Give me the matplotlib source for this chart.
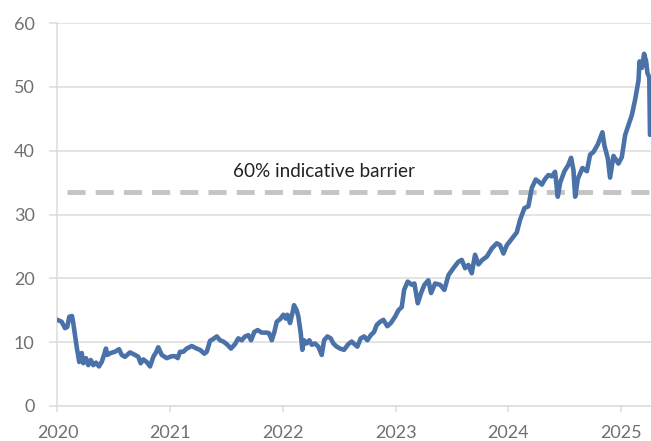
import matplotlib
matplotlib.use("Agg")
import matplotlib.pyplot as plt

plt.rcParams["font.family"] = ["Lato", "DejaVu Sans"]
plt.rcParams["lines.scale_dashes"] = False

# share price (decimal years)
years = [
    2020.000, 2020.037, 2020.067, 2020.087, 2020.105, 2020.129, 2020.140, 2020.170,
    2020.193, 2020.215, 2020.229, 2020.253, 2020.273, 2020.295, 2020.318, 2020.342,
    2020.368, 2020.392, 2020.413, 2020.430, 2020.442, 2020.472, 2020.510, 2020.546,
    2020.570, 2020.599, 2020.643, 2020.688, 2020.717, 2020.738, 2020.761, 2020.791,
    2020.821, 2020.850, 2020.874, 2020.894, 2020.925, 2020.969,
    2021.013, 2021.043, 2021.067, 2021.087, 2021.116, 2021.146, 2021.191, 2021.235,
    2021.264, 2021.303, 2021.324, 2021.353, 2021.382, 2021.413, 2021.442, 2021.471,
    2021.501, 2021.539, 2021.575, 2021.604, 2021.634, 2021.664, 2021.693, 2021.717,
    2021.746, 2021.776, 2021.812, 2021.856, 2021.877, 2021.901, 2021.924, 2021.945,
    2021.974,
    2022.004, 2022.025, 2022.039, 2022.063, 2022.087, 2022.098, 2022.122, 2022.137,
    2022.158, 2022.172, 2022.187, 2022.211, 2022.234, 2022.256, 2022.285, 2022.314,
    2022.344, 2022.365, 2022.394, 2022.424, 2022.447, 2022.477, 2022.507, 2022.542,
    2022.580, 2022.610, 2022.640, 2022.660, 2022.690, 2022.720, 2022.749, 2022.779,
    2022.808, 2022.832, 2022.862, 2022.891, 2022.926, 2022.957, 2022.995,
    2023.024, 2023.054, 2023.075, 2023.107, 2023.143, 2023.166, 2023.196, 2023.225,
    2023.255, 2023.290, 2023.314, 2023.350, 2023.394, 2023.432, 2023.468, 2023.512,
    2023.556, 2023.586, 2023.616, 2023.645, 2023.675, 2023.704, 2023.734, 2023.769,
    2023.808, 2023.853, 2023.897, 2023.926, 2023.956, 2023.986,
    2024.030, 2024.074, 2024.104, 2024.142, 2024.177, 2024.208, 2024.243, 2024.266,
    2024.297, 2024.326, 2024.355, 2024.385, 2024.414, 2024.438, 2024.459, 2024.497,
    2024.532, 2024.556, 2024.577, 2024.592, 2024.616, 2024.657, 2024.696, 2024.725,
    2024.754, 2024.793, 2024.834, 2024.852, 2024.882, 2024.902, 2024.932, 2024.976,
    2025.006, 2025.036, 2025.065, 2025.095, 2025.124, 2025.154, 2025.163, 2025.184,
    2025.204, 2025.222, 2025.233, 2025.250, 2025.256,
]
price = [
    13.5, 13.2, 12.2, 12.4, 14.0, 14.1, 13.0, 9.3,
    6.9, 8.3, 6.7, 7.5, 6.4, 7.2, 6.4, 6.8,
    6.2, 6.9, 8.0, 9.0, 8.0, 8.3, 8.5, 8.9,
    8.0, 7.7, 8.4, 8.0, 7.7, 6.7, 7.3, 6.9,
    6.2, 7.7, 8.4, 9.2, 8.0, 7.5,
    7.8, 7.8, 7.5, 8.5, 8.5, 9.0, 9.4, 9.0,
    8.8, 8.2, 8.5, 10.2, 10.5, 10.9, 10.3, 10.1,
    9.7, 9.0, 9.7, 10.6, 10.3, 10.9, 11.1, 10.3,
    11.6, 11.9, 11.5, 11.5, 11.4, 10.3, 11.6, 13.2,
    13.6,
    14.3, 13.7, 14.3, 13.0, 14.8, 15.8, 15.0, 14.0,
    11.4, 8.8, 10.3, 9.8, 10.3, 9.6, 9.8, 9.3,
    8.0, 10.3, 10.9, 10.6, 9.8, 9.3, 9.0, 8.8,
    9.7, 10.1, 9.6, 9.3, 10.6, 10.9, 10.3, 11.1,
    11.6, 12.7, 13.2, 13.5, 12.5, 13.0, 14.0,
    15.0, 15.5, 18.2, 19.5, 19.0, 19.2, 16.1, 17.7,
    19.0, 19.7, 17.7, 19.2, 19.0, 18.2, 20.5, 21.6,
    22.6, 22.9, 21.6, 22.1, 20.8, 23.7, 22.2, 22.9,
    23.4, 24.7, 25.5, 25.2, 23.9, 25.2,
    26.2, 27.2, 29.2, 31.0, 31.3, 34.2, 35.5, 35.2,
    34.7, 35.6, 36.2, 36.0, 36.7, 32.8, 35.0, 36.8,
    37.8, 38.9, 37.0, 32.8, 35.6, 37.3, 36.8, 39.4,
    39.8, 41.0, 42.9, 40.8, 38.8, 35.8, 39.2, 38.0,
    39.0, 42.5, 44.0, 45.6, 48.0, 51.0, 54.0, 53.0,
    55.2, 54.0, 52.2, 51.5, 42.5,
]
barrier = 33.5
barrier_label = "60% indicative barrier"
year_ticks = [2020, 2021, 2022, 2023, 2024, 2025]
value_ticks = [0, 10, 20, 30, 40, 50, 60]

grid_grey = "#dcdcdc"

fig = plt.figure(figsize=(6.51, 4.41), dpi=100)
ax = fig.add_axes([0.0883, 0.0794, 0.9117, 0.868])

for v in value_ticks:
    ax.axhline(v, color=grid_grey, lw=1.1, zorder=0)

ax.hlines(barrier, 2020.085, 2025.27, colors="#c4c4c4", lw=3.5,
          linestyles=(0, (13, 7.3)), zorder=1)
ax.text(2022.365, 36.8, barrier_label, ha="center", va="center",
        fontsize=13.6, color="#222222")

ax.plot(years, price, color="#4a72a8", lw=3.3, solid_joinstyle="round",
        solid_capstyle="round", zorder=3)

ax.set_xlim(2020, 2025.265)
ax.set_ylim(0, 60)
ax.set_xticks(year_ticks)
ax.set_xticklabels([str(y) for y in year_ticks])
ax.set_yticks(value_ticks)

for side in ("top", "right"):
    ax.spines[side].set_visible(False)
for side in ("left", "bottom"):
    ax.spines[side].set_color(grid_grey)
    ax.spines[side].set_linewidth(1.1)
ax.spines["bottom"].set_zorder(0)

ax.tick_params(axis="y", length=5.5, width=1.1, color=grid_grey, pad=11,
               labelsize=13, labelcolor="#707070")
ax.tick_params(axis="x", length=4, width=1.1, color=grid_grey, pad=10,
               labelsize=13, labelcolor="#707070")

fig.savefig("out.png", dpi=100)
